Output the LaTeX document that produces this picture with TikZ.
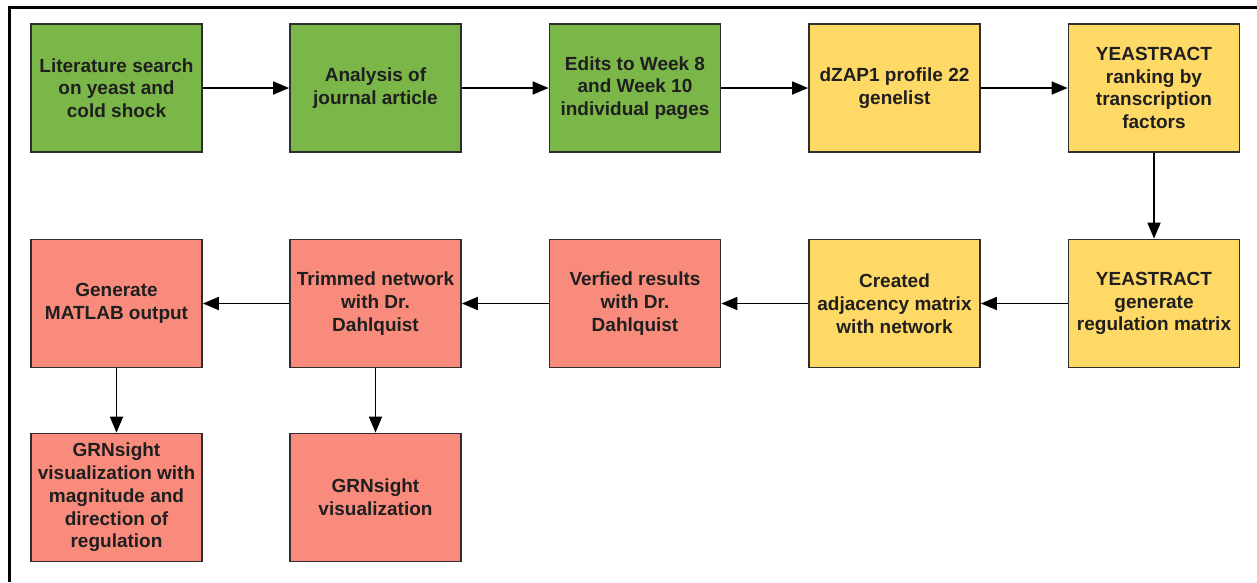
\documentclass[tikz,border=0pt]{standalone}
\usepackage{fontspec}
\setmainfont{Liberation Sans}
\usetikzlibrary{arrows.meta}
\definecolor{cgreen}{HTML}{7AB648}
\definecolor{cyellow}{HTML}{FFD966}
\definecolor{cred}{HTML}{F98B7C}
\definecolor{cline}{HTML}{2E2E2E}
\begin{document}
\begin{tikzpicture}[x=1pt,y=-1pt,
  box/.style={draw=cline, line width=1.8pt, minimum width=171pt, minimum height=128pt,
    inner sep=0pt, align=center, font=\fontsize{19}{22.7}\selectfont\bfseries, text=black!88},
  g/.style={box, fill=cgreen},
  yl/.style={box, fill=cyellow},
  rd/.style={box, fill=cred},
  arr/.style={-{Triangle[length=16pt,width=13pt]}, line width=1.8pt, black},
  frame/.style={line width=2.5pt, black}]
\fill[white] (0,0) rectangle (1257,582);
\useasboundingbox (0,0) rectangle (1257,582);
\draw[frame] (9.5,582) -- (9.5,7.5) -- (1257,7.5);

\node[g]  (n1)  at (116.5,88) {Literature search\\on yeast and\\cold shock};
\node[g]  (n2)  at (375.5,88) {Analysis of\\journal article};
\node[g]  (n3)  at (635,88)   {Edits to Week 8\\and Week 10\\individual pages};
\node[yl] (n4)  at (894.5,88) {dZAP1 profile 22\\genelist};
\node[yl] (n5)  at (1154,88)  {YEASTRACT\\ranking by\\transcription\\factors};
\node[yl] (n6)  at (1154,303.5)  {YEASTRACT\\generate\\regulation matrix};
\node[yl] (n7)  at (894.5,303.5) {Created\\adjacency matrix\\with network};
\node[rd] (n8)  at (635,303.5)   {Verfied results\\with Dr.\\Dahlquist};
\node[rd] (n9)  at (375.5,303.5) {Trimmed network\\with Dr.\\Dahlquist};
\node[rd] (n10) at (116.5,303.5) {Generate\\MATLAB output};
\node[rd] (n11) at (116.5,497.5) {GRNsight\\visualization with\\magnitude and\\direction of\\regulation};
\node[rd] (n12) at (375.5,497.5) {GRNsight\\visualization};

\draw[arr] (n1) -- (n2);
\draw[arr] (n2) -- (n3);
\draw[arr] (n3) -- (n4);
\draw[arr] (n4) -- (n5);
\draw[arr] (n5) -- (n6);
\draw[arr] (n6) -- (n7);
\draw[arr] (n7) -- (n8);
\draw[arr] (n8) -- (n9);
\draw[arr] (n9) -- (n10);
\draw[arr] (n10) -- (n11);
\draw[arr] (n9) -- (n12);
\end{tikzpicture}
\end{document}
